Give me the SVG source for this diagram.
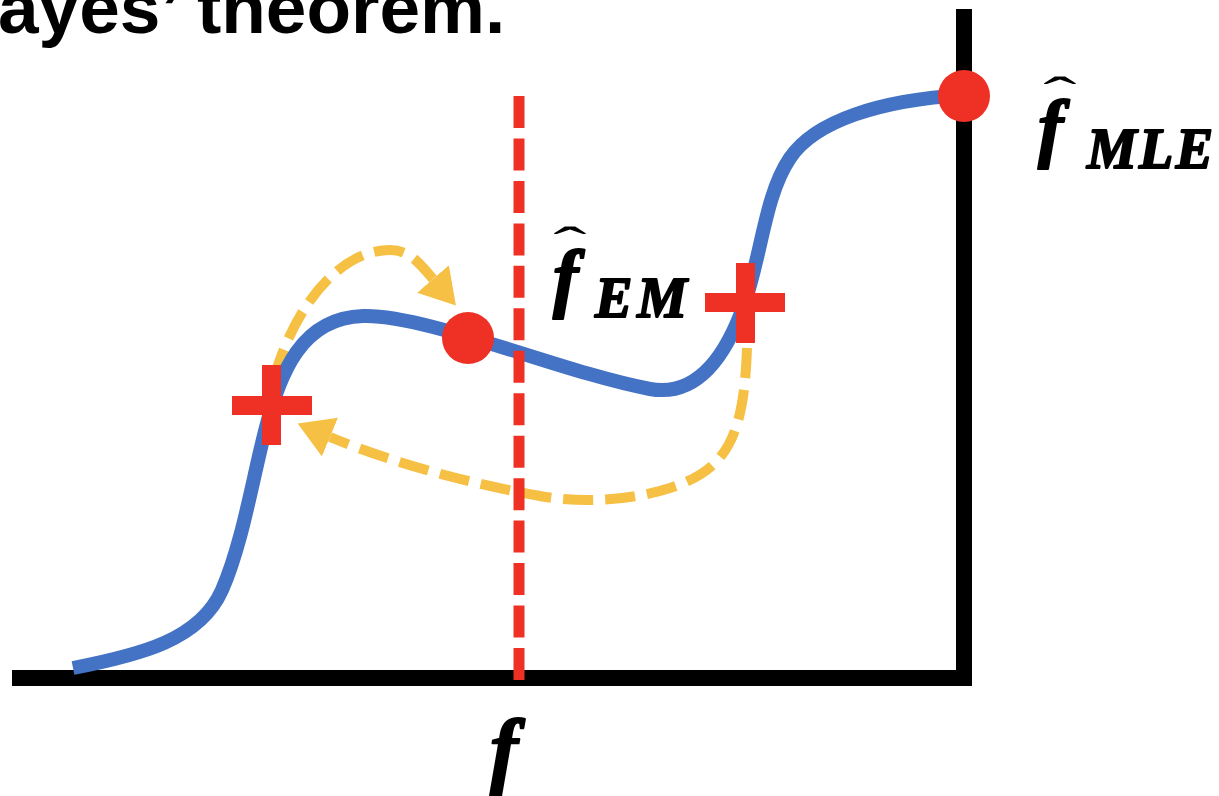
<svg xmlns="http://www.w3.org/2000/svg" width="1219" height="796" viewBox="0 0 1219 796">
<defs>
<style>
.title{font-family:"Liberation Sans",Arial,sans-serif;font-weight:bold;font-size:73px;fill:#000}
.fm{font-family:"Liberation Serif","Times New Roman",serif;font-weight:bold;font-style:italic;fill:#000;stroke:#000;stroke-width:2;stroke-linejoin:round}
.hat{font-family:"Liberation Serif","Times New Roman",serif;fill:#000}
.axis{fill:#000}
.curve{fill:none;stroke:#4472C4;stroke-width:14}
.step{fill:none;stroke:#F5C044;stroke-width:10;stroke-dasharray:30 12}
.vline{stroke:#EE3124;stroke-width:11;stroke-dasharray:32 10.46}
.cross{fill:#EE3124}
.dot{fill:#EE3124}
</style>
<marker id="ah" markerUnits="userSpaceOnUse" markerWidth="38" markerHeight="44" viewBox="0 -22 38 44" refX="0" refY="0" orient="auto">
<path d="M0,-21 L35,0 L0,21 z" fill="#F5C044"/>
</marker>
</defs>
<rect width="1219" height="796" fill="#fff"/>
<text class="title" x="-2" y="33">ayes’ theorem.</text>
<g id="axes">
<rect class="axis" x="12" y="670" width="960" height="16"/>
<rect class="axis" x="956" y="9" width="16" height="677"/>
</g>
<g id="connectors">
<path class="step" d="M274 378 C295 305 340 250 390 250 C410 250 420 264 433 279" marker-end="url(#ah)"/>
<path class="step" d="M747 348 C744 440 725 470 670 488 C630 501 580 503 540 496 C470 484 390 462 330 437" marker-end="url(#ah)"/>
</g>
<g id="likelihood-curve">
<path class="curve" d="M73 668 C140 655 200 640 222 590 C244 540 255 465 268 420 C281 375 300 318 363 316 C426 314 560 372 650 389 C695 397 725 360 745 302 C762 252 765 195 790 158 C815 121 880 100 964 95"/>
</g>
<g id="em-line">
<line class="vline" x1="519" y1="96" x2="519" y2="680"/>
</g>
<g id="cross-left">
<rect class="cross" x="232" y="396" width="80" height="19"/>
<rect class="cross" x="262" y="365" width="19" height="80"/>
</g>
<g id="cross-right">
<rect class="cross" x="705" y="293" width="80" height="19"/>
<rect class="cross" x="736" y="263" width="19" height="80"/>
</g>
<g id="dot-em">
<circle class="dot" cx="468" cy="338" r="26"/>
</g>
<g id="dot-mle">
<circle class="dot" cx="964" cy="96" r="26"/>
</g>
<g id="label-em">
<text class="hat" font-size="100" text-anchor="middle" transform="translate(570,236) scale(1,0.5)" x="0" y="51">ˆ</text>
<text class="fm" font-size="76" x="553" y="303">f</text>
<text class="fm" font-size="56" x="595" y="317" textLength="92" lengthAdjust="spacing">EM</text>
</g>
<g id="label-mle">
<text class="hat" font-size="100" text-anchor="middle" transform="translate(1060,86) scale(1,0.5)" x="0" y="51">ˆ</text>
<text class="fm" font-size="76" x="1038" y="153">f</text>
<text class="fm" font-size="56" x="1087" y="168" textLength="126" lengthAdjust="spacing">MLE</text>
</g>
<g id="label-axis">
<text class="fm" font-size="84" x="490" y="778">f</text>
</g>
</svg>
